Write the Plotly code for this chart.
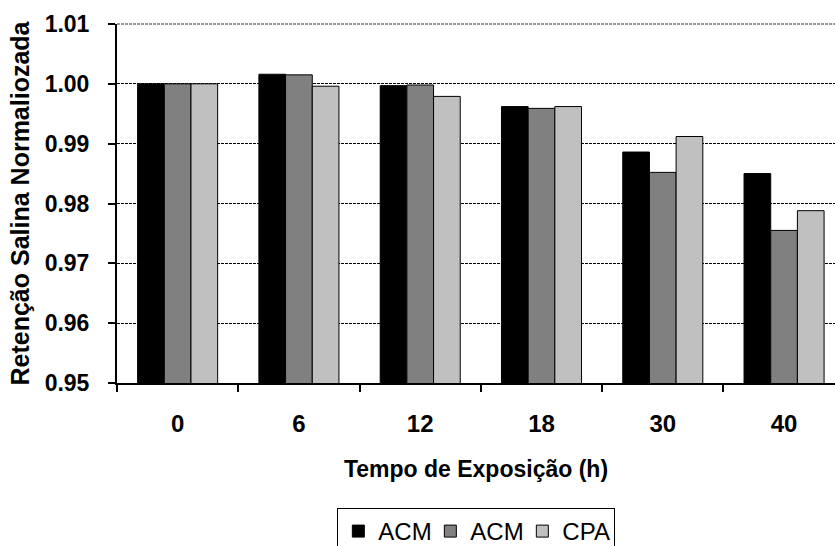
import plotly.graph_objects as go

# Exposure time categories (h)
tempos = ["0", "6", "12", "18", "30", "40"]

# Normalised salt retention per membrane series
acm_1 = [1.0000, 1.0016, 0.9997, 0.9962, 0.9886, 0.9850]
acm_2 = [1.0000, 1.0015, 0.9998, 0.9959, 0.9852, 0.9755]
cpa = [1.0000, 0.9996, 0.9979, 0.9962, 0.9912, 0.9788]

y_ticks = [0.95, 0.96, 0.97, 0.98, 0.99, 1.00, 1.01]

FONT = "Liberation Sans, Arial, sans-serif"

fig = go.Figure()
for name, vals, color in [("ACM", acm_1, "#000000"),
                          ("ACM", acm_2, "#808080"),
                          ("CPA", cpa, "#C0C0C0")]:
    fig.add_trace(go.Bar(
        x=tempos, y=vals, name=name,
        marker=dict(color=color, line=dict(color="#000000", width=1)),
    ))

fig.update_layout(
    width=835, height=546,
    margin=dict(l=117, r=0, t=23.5, b=163),
    paper_bgcolor="white", plot_bgcolor="white",
    barmode="group", bargap=0.34, bargroupgap=0,
    font=dict(family=FONT, color="black"),
    showlegend=True,
    legend=dict(
        orientation="h", xref="container", yref="container",
        x=0.404, xanchor="left", y=0.0696, yanchor="top",
        bordercolor="black", borderwidth=1, itemwidth=30,
        entrywidth=47, entrywidthmode="pixels",
        font=dict(family=FONT, size=24, color="black"),
        itemclick=False,
    ),
    xaxis=dict(
        type="category", range=[-0.5, 5.42], automargin=False,
        showline=True, linecolor="black", linewidth=2,
        ticks="outside", ticklen=7, tickwidth=2, tickcolor="black",
        tickson="boundaries", showgrid=False,
        tickfont=dict(family=FONT, size=24, color="black", weight="bold"),
        ticklabelstandoff=18,
        title=dict(text="<b>Tempo de Exposição (h)</b>",
                   font=dict(family=FONT, size=23, color="black"),
                   standoff=25),
    ),
    yaxis=dict(
        range=[0.95, 1.01], tickvals=y_ticks, automargin=False,
        ticktext=[f"{v:.2f}" for v in y_ticks],
        showline=True, linecolor="black", linewidth=2,
        ticks="outside", ticklen=7, tickwidth=2, tickcolor="black",
        showgrid=True, gridcolor="black", gridwidth=1, griddash="3px,1px",
        zeroline=False,
        tickfont=dict(family=FONT, size=23, color="black", weight="bold"),
        ticklabelstandoff=14,
        title=dict(text="<b>Retenção Salina Normaliozada</b>",
                   font=dict(family=FONT, size=25, color="black"),
                   standoff=8),
    ),
    # grey border line along the top of the plot area
    shapes=[dict(type="line", xref="paper", yref="paper", x0=0, x1=1,
                 y0=1, y1=1, line=dict(color="#999999", width=2, dash="3px,1px"),
                 layer="above")],
)

fig.write_html("out.html")
